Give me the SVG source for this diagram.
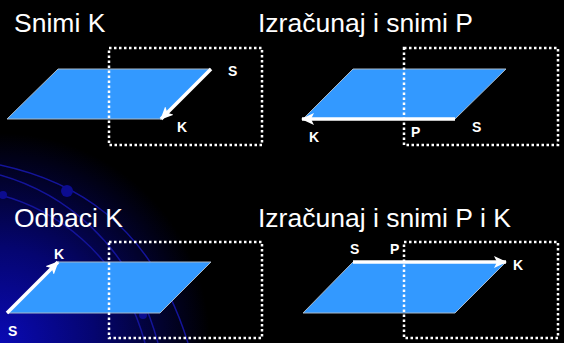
<svg xmlns="http://www.w3.org/2000/svg" width="564" height="343" viewBox="0 0 564 343">
<defs>
<radialGradient id="bg" cx="0" cy="343" r="210" gradientUnits="userSpaceOnUse">
<stop offset="0" stop-color="#0a0ab4"/>
<stop offset="0.45" stop-color="#050570"/>
<stop offset="1" stop-color="#000000"/>
</radialGradient>
<marker id="ah" markerWidth="14" markerHeight="12" refX="12" refY="6" orient="auto" markerUnits="userSpaceOnUse">
<path d="M0,0 L13,6 L0,12 L3,6 Z" fill="#ffffff"/>
</marker>
<style>
.title{font-family:"Liberation Sans",Arial,sans-serif;font-size:26.5px;fill:#ffffff}
.lbl{font-family:"Liberation Sans",Arial,sans-serif;font-size:14px;font-weight:bold;fill:#ffffff}
.plane{fill:#3399ff;stroke:#a8b8c8;stroke-width:1}
.win{fill:none;stroke:#ffffff;stroke-width:2.5;stroke-dasharray:2.5 2.5}
.arc{fill:none;stroke:#14149a;stroke-width:1.5}
.arr{stroke:#ffffff;stroke-width:3.5;fill:none;marker-end:url(#ah)}
</style>
</defs>
<rect width="564" height="343" fill="#000"/>
<rect width="564" height="343" fill="url(#bg)"/>
<g id="decor">
<path class="arc" d="M0,165 C70,180 150,220 188,343"/>
<path class="arc" d="M0,175 C60,192 130,240 158,343"/>
<path class="arc" d="M0,195 C50,208 120,250 145,343"/>
<circle cx="67" cy="191" r="6" fill="#0c0c90"/>
<circle cx="3" cy="195" r="4" fill="#0c0c90"/>
<circle cx="143" cy="315" r="4" fill="#0c0c90"/>
</g>
<g id="panel1">
<text class="title" x="14" y="32">Snimi K</text>
<polygon class="plane" points="58,69 211,69 161,119 7,119"/>
<rect class="win" x="109" y="48" width="153" height="97"/>
<text class="lbl" x="228" y="76">S</text>
<text class="lbl" x="177" y="132">K</text>
</g>
<g id="panel2">
<text class="title" x="258" y="32">Izračunaj i snimi P</text>
<polygon class="plane" points="353,69 506,69 455,119 303,119"/>
<rect class="win" x="404" y="48" width="154" height="97"/>
<text class="lbl" x="309" y="142">K</text>
<text class="lbl" x="411" y="137">P</text>
<text class="lbl" x="472" y="132">S</text>
</g>
<g id="panel3">
<text class="title" x="14" y="227">Odbaci K</text>
<polygon class="plane" points="58,262 211,262 160,313 7,313"/>
<rect class="win" x="109" y="242" width="153" height="96"/>
<text class="lbl" x="54" y="259">K</text>
<text class="lbl" x="8" y="336">S</text>
</g>
<g id="panel4">
<text class="title" x="258" y="227">Izračunaj i snimi P i K</text>
<polygon class="plane" points="353,262 506,262 455,313 303,313"/>
<rect class="win" x="404" y="242" width="154" height="96"/>
<text class="lbl" x="350" y="254">S</text>
<text class="lbl" x="390" y="254">P</text>
<text class="lbl" x="513" y="270">K</text>
</g>
<g id="connectors">
<line class="arr" x1="211" y1="69" x2="161" y2="119"/>
<line class="arr" x1="455" y1="119" x2="302" y2="119"/>
<line class="arr" x1="7" y1="313" x2="58" y2="262"/>
<line class="arr" x1="353" y1="262" x2="506" y2="262"/>
</g>
</svg>
